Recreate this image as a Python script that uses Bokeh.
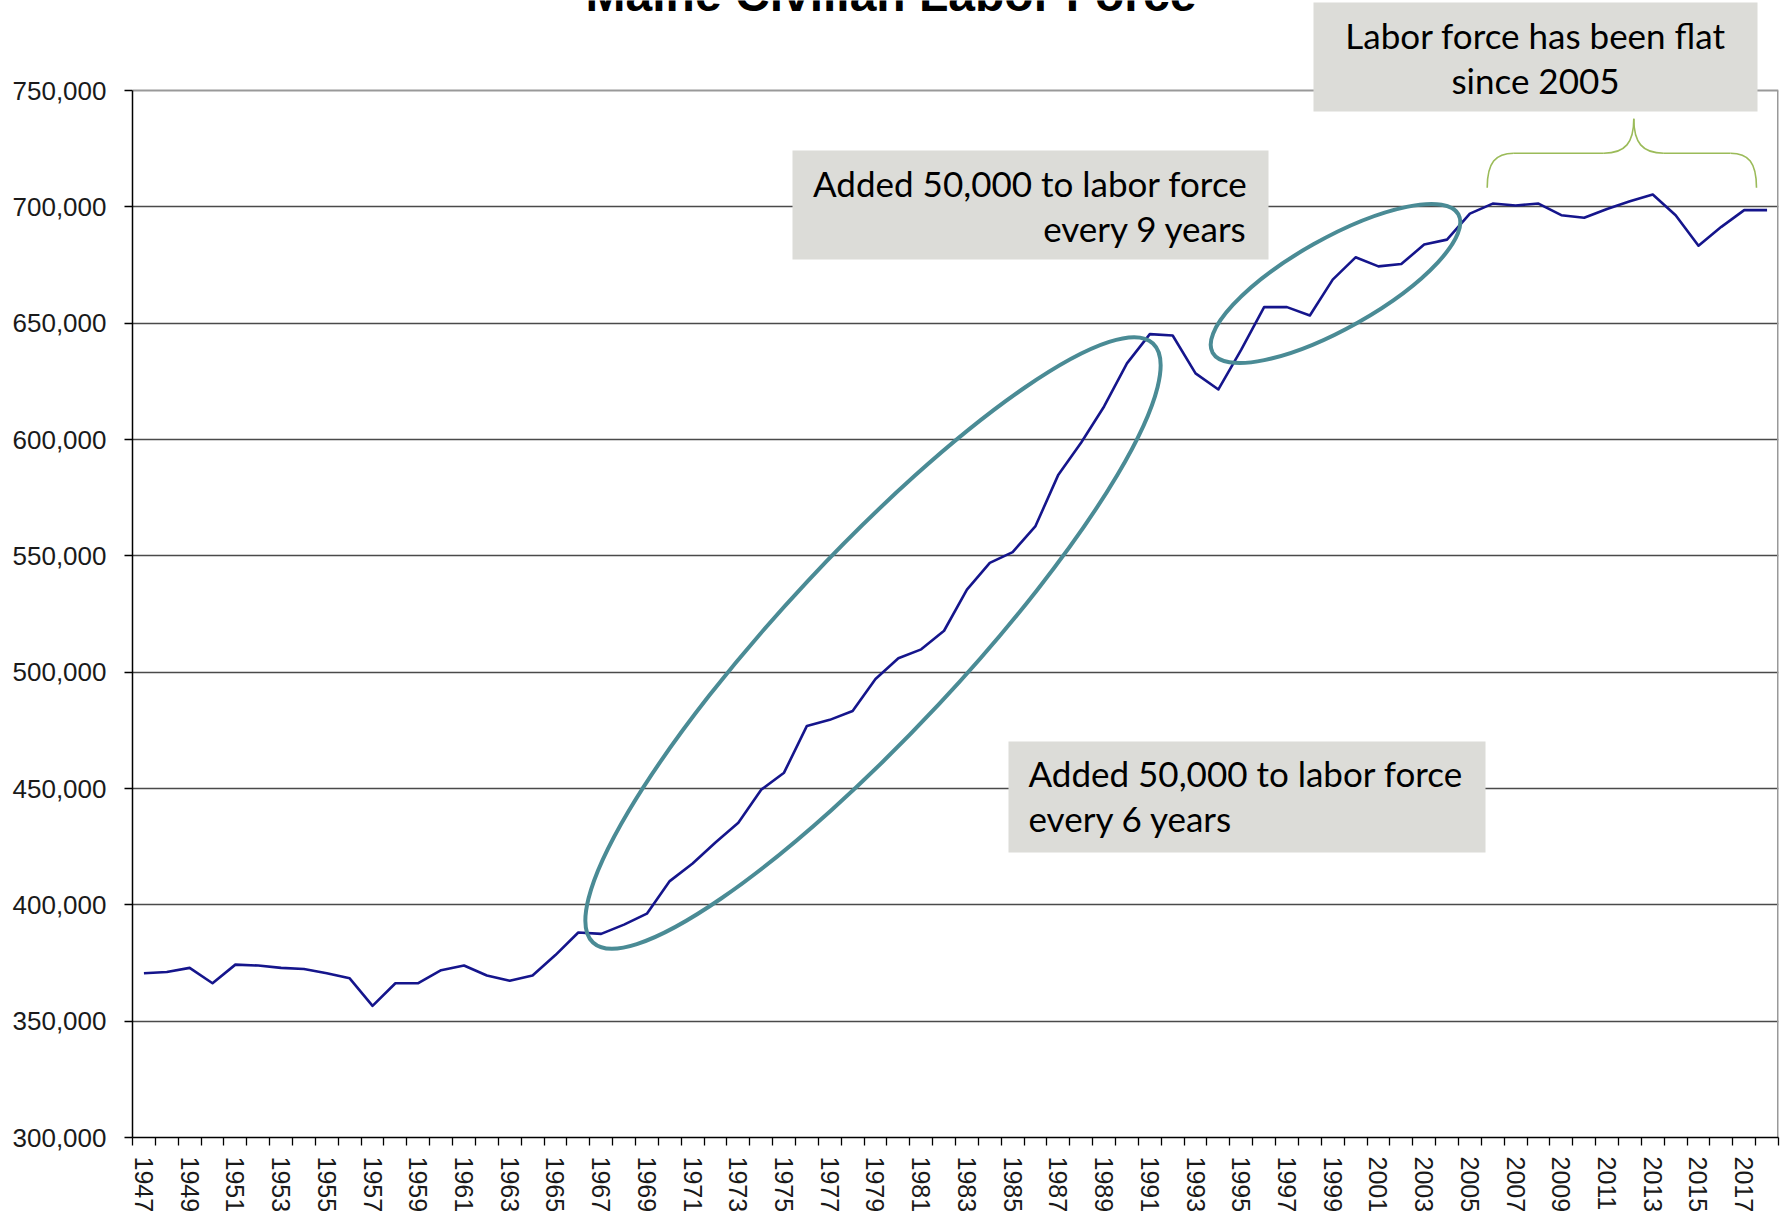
from bokeh.plotting import figure
from bokeh.models import Range1d, FixedTicker, NumeralTickFormatter
from bokeh.core.properties import value
from bokeh.embed import file_html
from bokeh.resources import INLINE

# ---------------- data ----------------
years = list(range(1947, 2019))
labor_force = [
    370600, 371100, 372900, 366300, 374300, 373900, 372900, 372400, 370600, 368400,
    356600, 366300, 366300, 371900, 373900, 369600, 367400, 369600, 378400, 388100,
    387500, 391500, 396200, 410200, 417800, 426800, 435300, 449500, 456800, 476900,
    479500, 483300, 497100, 506000, 509800, 517800, 535500, 547000, 551600, 562800,
    584900, 598700, 614200, 632700, 645300, 644700, 628400, 621500, 638600, 656900,
    656900, 653300, 668700, 678300, 674400, 675400, 683800, 685900, 697100, 701400,
    700600, 701400, 696400, 695300, 699100, 702400, 705300, 696400, 683300, 691400,
    698600, 698600,
]
x_label_years = years[::2]
y_ticks = list(range(300000, 750001, 50000))

title_text = "Maine Civilian Labor Force"
note_flat = ["Labor force has been flat", "since 2005"]
note_9 = ["Added 50,000 to labor force", "every 9 years"]
note_6 = ["Added 50,000 to labor force", "every 6 years"]

# ---------------- geometry helpers (canvas pixels -> data) ----------------
W, H = 1780, 1216
X0, Y0 = 1946.5, 300000.0
PX_LEFT, PX_RIGHT = 132.0, 1778.0
PX_W = (PX_RIGHT - PX_LEFT) / 72.0
PX_BOTTOM, PX_H = 1137.0, 1047.0 / 450000.0


def dx(px):
    return X0 + (px - PX_LEFT) / PX_W


def dy(py):
    return Y0 + (PX_BOTTOM - py) / PX_H


Y_TOP = dy(0)

p = figure(width=W, height=H,
           x_range=Range1d(X0, X0 + 72), y_range=Range1d(Y0, Y_TOP),
           output_backend="svg", toolbar_location=None,
           min_border_left=int(PX_LEFT), min_border_right=int(W - PX_RIGHT),
           min_border_top=0, min_border_bottom=int(H - PX_BOTTOM))
p.outline_line_color = None
p.background_fill_color = "white"
p.border_fill_color = "white"

# x axis (category style: ticks between years, labels every other year)
p.xaxis.ticker = FixedTicker(ticks=x_label_years,
                             minor_ticks=[y - 0.5 for y in years] + [years[-1] + 0.5])
p.xaxis.major_label_overrides = {y: str(y) for y in x_label_years}
p.xaxis.major_tick_line_color = None
p.xaxis.major_tick_out = 8
p.xaxis.major_tick_in = 0
p.xaxis.minor_tick_out = 8
p.xaxis.minor_tick_in = 0
p.xaxis.minor_tick_line_color = "black"
p.xaxis.minor_tick_line_width = 1.3
p.xaxis.major_label_orientation = "vertical"
p.xaxis.major_label_standoff = 11
p.xaxis.major_label_text_font = "Liberation Sans"
p.xaxis.major_label_text_font_size = "25px"
p.xaxis.major_label_text_color = "#1a1a1a"
p.xaxis.axis_line_color = "black"
p.xaxis.axis_line_width = 1.5

# y axis
p.yaxis.ticker = FixedTicker(ticks=y_ticks)
p.yaxis.bounds = (300000, 750000)
p.yaxis.formatter = NumeralTickFormatter(format="0,0")
p.yaxis.major_tick_out = 8
p.yaxis.major_tick_in = 0
p.yaxis.major_tick_line_width = 1.3
p.yaxis.minor_tick_line_color = None
p.yaxis.major_label_standoff = 18
p.yaxis.major_label_text_font = "Liberation Sans"
p.yaxis.major_label_text_font_size = "26px"
p.yaxis.major_label_text_color = "#1a1a1a"
p.yaxis.axis_line_color = "black"
p.yaxis.axis_line_width = 1.5

p.xgrid.visible = False
p.ygrid.ticker = FixedTicker(ticks=y_ticks[1:-1])
p.ygrid.grid_line_color = "#4a4a4a"
p.ygrid.grid_line_width = 1.3

# plot-area border (top at 750,000 and right edge)
p.segment(x0=[X0], y0=[750000], x1=[X0 + 72], y1=[750000], line_color="#999999", line_width=2)
p.segment(x0=[X0 + 72], y0=[Y0], x1=[X0 + 72], y1=[750000], line_color="#999999", line_width=3)

# annotation boxes
box_fill = "#dcdcd8"
p.quad(left=[dx(1313), dx(792)], right=[dx(1757), dx(1268)],
       top=[dy(2), dy(150)], bottom=[dy(111), dy(259)],
       fill_color=box_fill, line_color=None)
p.quad(left=[dx(1008)], right=[dx(1485)], top=[dy(741)], bottom=[dy(852)],
       fill_color=box_fill, line_color=None)

# data line
p.line(years, labor_force, line_color="#15158c", line_width=2.6, line_join="round")

# ellipses
teal = "#4a8b95"
p.ellipse(x=[dx(872.5), dx(1335)], y=[dy(642.5), dy(283)],
          width=[820, 282], height=[180, 90], angle=[0.819, 0.513],
          width_units="screen", height_units="screen",
          fill_color=None, line_color=teal, line_width=4)

# curly bracket over 2005-2018
green = "#9bbb59"
bx0 = [1486.7, 1603.3, 1633.3, 1730.0]
by0 = [187.3, 152.7, 118.3, 152.7]
bx1 = [1513.3, 1633.3, 1663.3, 1756.0]
by1 = [152.7, 118.3, 152.7, 187.3]
bcx0 = [1486.7, 1625.0, 1633.3, 1748.0]
bcy0 = [162.0, 152.7, 142.0, 152.7]
bcx1 = [1495.0, 1633.3, 1641.6, 1756.0]
bcy1 = [152.7, 142.0, 152.7, 162.0]
p.bezier(x0=[dx(v) for v in bx0], y0=[dy(v) for v in by0],
         x1=[dx(v) for v in bx1], y1=[dy(v) for v in by1],
         cx0=[dx(v) for v in bcx0], cy0=[dy(v) for v in bcy0],
         cx1=[dx(v) for v in bcx1], cy1=[dy(v) for v in bcy1],
         line_color=green, line_width=1.6)
p.segment(x0=[dx(1513.3), dx(1663.3)], y0=[dy(152.7)] * 2,
          x1=[dx(1603.3), dx(1730.0)], y1=[dy(152.7)] * 2,
          line_color=green, line_width=1.6)

# texts (baselines corrected for Bokeh's text placement)
note_font = value("Lato")
note_size = "35px"
NOTE_SHIFT = 12.5
p.text(x=[dx(1535)] * 2, y=[dy(46.7 - NOTE_SHIFT), dy(91.7 - NOTE_SHIFT)], text=note_flat,
       text_font=note_font, text_font_size=note_size, text_align="center",
       text_baseline="alphabetic", text_color="black")
p.text(x=[dx(1247)] * 2, y=[dy(195 - NOTE_SHIFT), dy(240 - NOTE_SHIFT)], text=note_9,
       text_font=note_font, text_font_size=note_size, text_align="right",
       text_baseline="alphabetic", text_color="black")
p.text(x=[dx(1028)] * 2, y=[dy(785 - NOTE_SHIFT), dy(830 - NOTE_SHIFT)], text=note_6,
       text_font=note_font, text_font_size=note_size, text_align="left",
       text_baseline="alphabetic", text_color="black")

# title (cut off at the top, as in the source)
p.text(x=[dx(890.5)], y=[dy(11 - 17)], text=[title_text],
       text_font=value("Liberation Sans"), text_font_style="bold",
       text_font_size="48px", text_align="center", text_baseline="alphabetic",
       text_color="black")

open("out.html", "w").write(file_html(p, INLINE))
